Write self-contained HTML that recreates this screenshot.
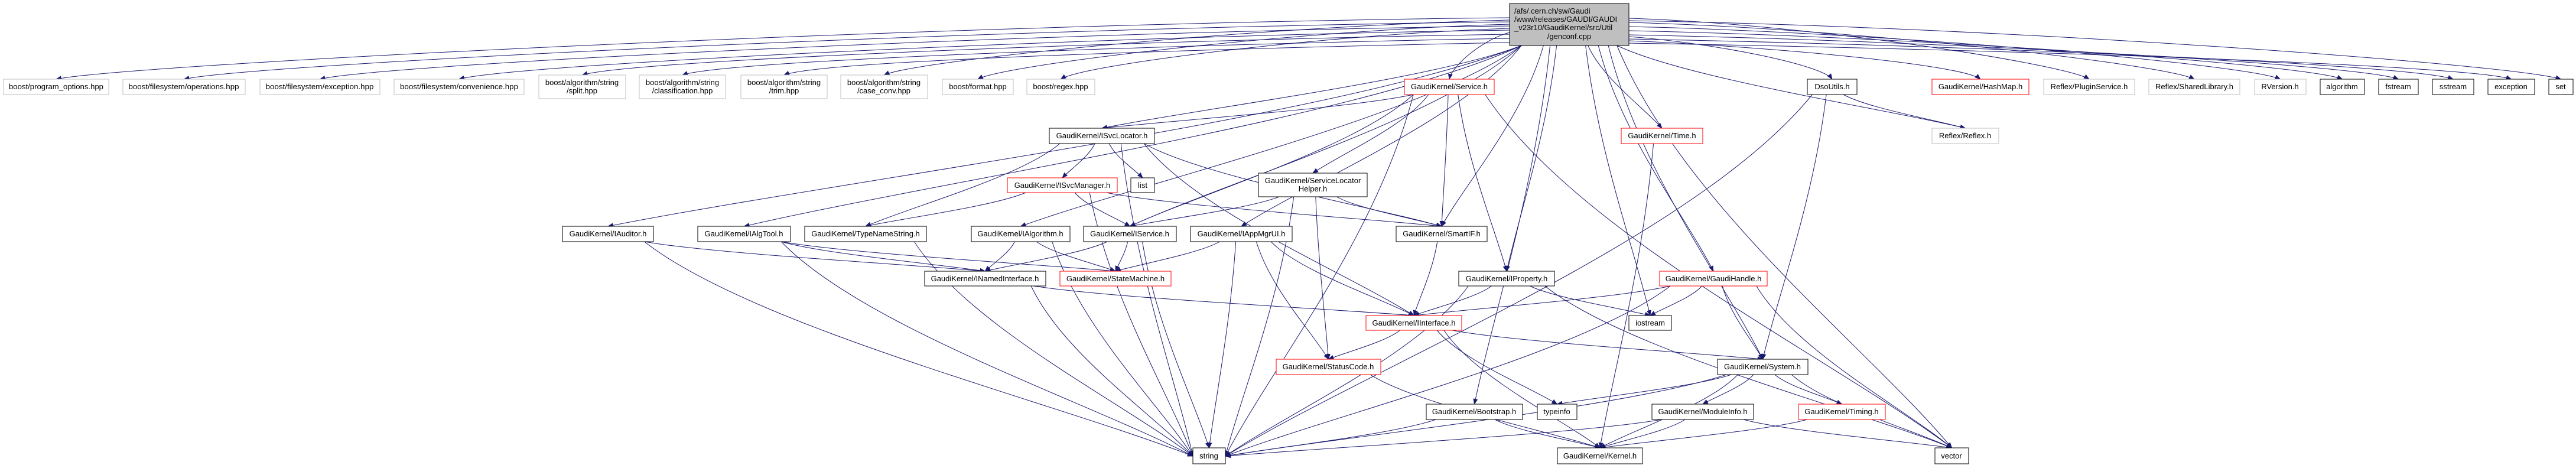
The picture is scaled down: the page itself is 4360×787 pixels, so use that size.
<!DOCTYPE html>
<html><head><meta charset="utf-8"><style>
html,body{margin:0;padding:0;background:#fff;}
svg{display:block;}
text{font-family:"Liberation Sans",sans-serif;font-size:13px;fill:#000;}
</style></head><body>
<svg id="g" width="4360" height="787" viewBox="0 0 4360 787" xmlns="http://www.w3.org/2000/svg">
<defs><marker id="a" markerWidth="10" markerHeight="8" refX="9" refY="4" orient="auto" markerUnits="userSpaceOnUse"><path d="M0,0 L10,4 L0,8 z" fill="#191970"/></marker></defs>
<g id="edges" fill="none" stroke="#191970" stroke-width="1"></g>
<g id="nodes">
<rect x="2555" y="6" width="202" height="71" fill="#bfbfbf" stroke="#000"/>
<text x="2563" y="23">/afs/.cern.ch/sw/Gaudi</text>
<text x="2563" y="37">/www/releases/GAUDI/GAUDI</text>
<text x="2563" y="51">_v23r10/GaudiKernel/src/Util</text>
<text x="2656" y="66" text-anchor="middle">/genconf.cpp</text>

<rect x="6" y="134" width="178" height="26" fill="#fff" stroke="#bfbfbf"/><text x="95" y="151" text-anchor="middle" textLength="160" lengthAdjust="spacingAndGlyphs">boost/program_options.hpp</text>
<rect x="208" y="134" width="207" height="26" fill="#fff" stroke="#bfbfbf"/><text x="311" y="151" text-anchor="middle" textLength="187" lengthAdjust="spacingAndGlyphs">boost/filesystem/operations.hpp</text>
<rect x="440" y="134" width="203" height="26" fill="#fff" stroke="#bfbfbf"/><text x="541" y="151" text-anchor="middle" textLength="183" lengthAdjust="spacingAndGlyphs">boost/filesystem/exception.hpp</text>
<rect x="667" y="134" width="220" height="26" fill="#fff" stroke="#bfbfbf"/><text x="777" y="151" text-anchor="middle" textLength="200" lengthAdjust="spacingAndGlyphs">boost/filesystem/convenience.hpp</text>
<rect x="912" y="127" width="147" height="40" fill="#fff" stroke="#bfbfbf"/><text x="985" y="144" text-anchor="middle">boost/algorithm/string</text><text x="985" y="158" text-anchor="middle">/split.hpp</text>
<rect x="1082" y="127" width="146" height="40" fill="#fff" stroke="#bfbfbf"/><text x="1155" y="144" text-anchor="middle">boost/algorithm/string</text><text x="1155" y="158" text-anchor="middle">/classification.hpp</text>
<rect x="1254" y="127" width="146" height="40" fill="#fff" stroke="#bfbfbf"/><text x="1327" y="144" text-anchor="middle">boost/algorithm/string</text><text x="1327" y="158" text-anchor="middle">/trim.hpp</text>
<rect x="1423" y="127" width="147" height="40" fill="#fff" stroke="#bfbfbf"/><text x="1496" y="144" text-anchor="middle">boost/algorithm/string</text><text x="1496" y="158" text-anchor="middle">/case_conv.hpp</text>
<rect x="1595" y="134" width="120" height="26" fill="#fff" stroke="#bfbfbf"/><text x="1655" y="151" text-anchor="middle">boost/format.hpp</text>
<rect x="1738" y="134" width="115" height="26" fill="#fff" stroke="#bfbfbf"/><text x="1795" y="151" text-anchor="middle">boost/regex.hpp</text>

<rect x="2377" y="134" width="152" height="26" fill="#fff" stroke="#ff0000"/><text x="2453" y="151" text-anchor="middle">GaudiKernel/Service.h</text>
<rect x="3059" y="134" width="84" height="26" fill="#fff" stroke="#000"/><text x="3101" y="151" text-anchor="middle">DsoUtils.h</text>
<rect x="3270" y="134" width="164" height="26" fill="#fff" stroke="#ff0000"/><text x="3352" y="151" text-anchor="middle">GaudiKernel/HashMap.h</text>
<rect x="3459" y="134" width="154" height="26" fill="#fff" stroke="#bfbfbf"/><text x="3536" y="151" text-anchor="middle">Reflex/PluginService.h</text>
<rect x="3637" y="134" width="154" height="26" fill="#fff" stroke="#bfbfbf"/><text x="3714" y="151" text-anchor="middle">Reflex/SharedLibrary.h</text>
<rect x="3816" y="134" width="87" height="26" fill="#fff" stroke="#bfbfbf"/><text x="3859" y="151" text-anchor="middle">RVersion.h</text>
<rect x="3927" y="134" width="75" height="26" fill="#fff" stroke="#000"/><text x="3964" y="151" text-anchor="middle">algorithm</text>
<rect x="4026" y="134" width="67" height="26" fill="#fff" stroke="#000"/><text x="4059" y="151" text-anchor="middle">fstream</text>
<rect x="4117" y="134" width="70" height="26" fill="#fff" stroke="#000"/><text x="4152" y="151" text-anchor="middle">sstream</text>
<rect x="4211" y="134" width="79" height="26" fill="#fff" stroke="#000"/><text x="4250" y="151" text-anchor="middle">exception</text>
<rect x="4314" y="134" width="41" height="26" fill="#fff" stroke="#000"/><text x="4334" y="151" text-anchor="middle">set</text>

<rect x="1776" y="217" width="178" height="26" fill="#fff" stroke="#000"/><text x="1865" y="234" text-anchor="middle">GaudiKernel/ISvcLocator.h</text>
<rect x="2744" y="217" width="138" height="26" fill="#fff" stroke="#ff0000"/><text x="2813" y="234" text-anchor="middle">GaudiKernel/Time.h</text>
<rect x="3270" y="217" width="113" height="26" fill="#fff" stroke="#bfbfbf"/><text x="3326" y="234" text-anchor="middle">Reflex/Reflex.h</text>

<rect x="1705" y="301" width="186" height="25" fill="#fff" stroke="#ff0000"/><text x="1798" y="318" text-anchor="middle">GaudiKernel/ISvcManager.h</text>
<rect x="1914" y="301" width="40" height="25" fill="#fff" stroke="#000"/><text x="1934" y="318" text-anchor="middle">list</text>
<rect x="2130" y="293" width="184" height="40" fill="#fff" stroke="#000"/><text x="2222" y="310" text-anchor="middle">GaudiKernel/ServiceLocator</text><text x="2222" y="324" text-anchor="middle">Helper.h</text>

<rect x="952" y="383" width="154" height="26" fill="#fff" stroke="#000"/><text x="1029" y="400" text-anchor="middle">GaudiKernel/IAuditor.h</text>
<rect x="1181" y="383" width="157" height="26" fill="#fff" stroke="#000"/><text x="1259" y="400" text-anchor="middle">GaudiKernel/IAlgTool.h</text>
<rect x="1362" y="383" width="206" height="26" fill="#fff" stroke="#000"/><text x="1465" y="400" text-anchor="middle">GaudiKernel/TypeNameString.h</text>
<rect x="1644" y="383" width="167" height="26" fill="#fff" stroke="#000"/><text x="1727" y="400" text-anchor="middle">GaudiKernel/IAlgorithm.h</text>
<rect x="1834" y="383" width="157" height="26" fill="#fff" stroke="#000"/><text x="1912" y="400" text-anchor="middle">GaudiKernel/IService.h</text>
<rect x="2015" y="383" width="172" height="26" fill="#fff" stroke="#000"/><text x="2101" y="400" text-anchor="middle">GaudiKernel/IAppMgrUI.h</text>
<rect x="2363" y="383" width="154" height="26" fill="#fff" stroke="#000"/><text x="2440" y="400" text-anchor="middle">GaudiKernel/SmartIF.h</text>

<rect x="1565" y="459" width="205" height="25" fill="#fff" stroke="#000"/><text x="1667" y="476" text-anchor="middle">GaudiKernel/INamedInterface.h</text>
<rect x="1794" y="459" width="188" height="25" fill="#fff" stroke="#ff0000"/><text x="1888" y="476" text-anchor="middle">GaudiKernel/StateMachine.h</text>
<rect x="2469" y="459" width="162" height="25" fill="#fff" stroke="#000"/><text x="2550" y="476" text-anchor="middle">GaudiKernel/IProperty.h</text>
<rect x="2809" y="459" width="182" height="25" fill="#fff" stroke="#ff0000"/><text x="2900" y="476" text-anchor="middle">GaudiKernel/GaudiHandle.h</text>

<rect x="2312" y="534" width="162" height="25" fill="#fff" stroke="#ff0000"/><text x="2393" y="551" text-anchor="middle">GaudiKernel/IInterface.h</text>
<rect x="2757" y="534" width="72" height="25" fill="#fff" stroke="#000"/><text x="2793" y="551" text-anchor="middle">iostream</text>

<rect x="2160" y="608" width="177" height="26" fill="#fff" stroke="#ff0000"/><text x="2248" y="625" text-anchor="middle">GaudiKernel/StatusCode.h</text>
<rect x="2907" y="608" width="153" height="26" fill="#fff" stroke="#000"/><text x="2983" y="625" text-anchor="middle">GaudiKernel/System.h</text>

<rect x="2414" y="684" width="163" height="26" fill="#fff" stroke="#000"/><text x="2495" y="701" text-anchor="middle">GaudiKernel/Bootstrap.h</text>
<rect x="2602" y="684" width="67" height="26" fill="#fff" stroke="#000"/><text x="2635" y="701" text-anchor="middle">typeinfo</text>
<rect x="2796" y="684" width="172" height="26" fill="#fff" stroke="#000"/><text x="2882" y="701" text-anchor="middle">GaudiKernel/ModuleInfo.h</text>
<rect x="3044" y="684" width="147" height="26" fill="#fff" stroke="#ff0000"/><text x="3117" y="701" text-anchor="middle">GaudiKernel/Timing.h</text>

<rect x="2019" y="758" width="55" height="27" fill="#fff" stroke="#000"/><text x="2046" y="776" text-anchor="middle">string</text>
<rect x="2636" y="758" width="144" height="27" fill="#fff" stroke="#000"/><text x="2708" y="776" text-anchor="middle">GaudiKernel/Kernel.h</text>
<rect x="3275" y="758" width="57" height="27" fill="#fff" stroke="#000"/><text x="3303" y="776" text-anchor="middle">vector</text>
</g>
</svg>
<script>
var N={root:[2555,2757,6,77],po:[6,184,134,160],op:[208,415,134,160],ex:[440,643,134,160],cv:[667,887,134,160],sp:[912,1059,127,167],cl:[1082,1228,127,167],tr:[1254,1400,127,167],cc:[1423,1570,127,167],fm:[1595,1715,134,160],rg:[1738,1853,134,160],
svc:[2377,2529,134,160],dso:[3059,3143,134,160],hm:[3270,3434,134,160],ps:[3459,3613,134,160],sl:[3637,3791,134,160],rv:[3816,3903,134,160],al:[3927,4002,134,160],fs:[4026,4093,134,160],ss:[4117,4187,134,160],exc:[4211,4290,134,160],set:[4314,4355,134,160],
isl:[1776,1954,217,243],time:[2744,2882,217,243],rfx:[3270,3383,217,243],ism:[1705,1891,301,326],list:[1914,1954,301,326],slh:[2130,2314,293,333],
aud:[952,1106,383,409],tool:[1181,1338,383,409],tns:[1362,1568,383,409],ialg:[1644,1811,383,409],isvc:[1834,1991,383,409],app:[2015,2187,383,409],sif:[2363,2517,383,409],
nif:[1565,1770,459,484],sm:[1794,1982,459,484],prop:[2469,2631,459,484],gh:[2809,2991,459,484],ii:[2312,2474,534,559],ios:[2757,2829,534,559],
sc:[2160,2337,608,634],sys:[2907,3060,608,634],boot:[2414,2577,684,710],ti:[2602,2669,684,710],mi:[2796,2968,684,710],tim:[3044,3191,684,710],
str:[2019,2074,758,785],ker:[2636,2780,758,785],vec:[3275,3332,758,785]};
var E=[["root","po"],["root","op"],["root","ex"],["root","cv"],["root","sp"],["root","cl"],["root","tr"],["root","cc"],["root","fm"],["root","rg"],["root","svc"],["root","dso"],["root","hm"],["root","ps"],["root","sl"],["root","rv"],["root","al"],["root","fs"],["root","ss"],["root","exc"],["root","set"],
["root","isl"],["root","aud"],["root","tool"],["root","ialg"],["root","isvc"],["root","app"],["root","sif"],["root","prop"],["root","time"],["root","ios"],["root","gh"],["root","sys"],["root","boot"],["root","rfx"],["root","vec"],
["svc","isl"],["svc","sif"],["svc","prop"],["svc","slh"],["svc","isvc"],["svc","vec"],["svc","str"],
["isl","ism"],["isl","list"],["isl","str"],["isl","tns"],["isl","sif"],["isl","ii"],
["ism","tns"],["ism","isvc"],["ism","sif"],["ism","str"],
["slh","isvc"],["slh","sif"],["slh","sc"],["slh","str"],
["aud","nif"],["aud","str"],["tool","nif"],["tool","sm"],["tool","str"],["tns","str"],
["ialg","nif"],["ialg","sm"],["ialg","str"],["isvc","nif"],["isvc","sm"],["isvc","str"],
["app","sm"],["app","str"],["app","ii"],["app","sc"],["nif","str"],["nif","ii"],["sif","ii"],
["prop","ii"],["prop","ios"],["prop","str"],["prop","vec"],["gh","ii"],["gh","ios"],["gh","sys"],["gh","str"],["gh","vec"],
["ii","sc"],["ii","ti"],["ii","sys"],["ii","ker"],["sc","ker"],["sys","ti"],["sys","mi"],["sys","tim"],["sys","ker"],["sys","str"],["sys","vec"],
["boot","ker"],["boot","str"],["mi","ker"],["mi","str"],["mi","vec"],["tim","ker"],["time","ker"],["dso","rfx"],["dso","sys"],["dso","str"]];
var g=document.getElementById("edges"),h="";
E.forEach(function(e,i){var s=N[e[0]],t=N[e[1]];
var tx=(t[0]+t[1])/2,ty=t[2];var sx,sy;
if(e[0]=="root"&&t[2]<170&&(tx<s[0]||tx>s[1])){sx=tx<s[0]?s[0]:s[1];sy=30+(i*7)%45;
h+='<path marker-end="url(#a)" d="M'+sx+','+sy+' C'+(sx+(tx-sx)*0.4)+','+(sy+10)+' '+(tx+(sx-tx)*0.05)+','+(ty-25)+' '+tx+','+ty+'"/>';return;}
var sc=(s[0]+s[1])/2;sx=sc+Math.max(-1,Math.min(1,(tx-sc)/400))*(s[1]-s[0])*0.4;sy=s[3];
if(e[1]=="str"&&sx>t[1]+100){tx=t[1];ty=t[2]+14;}
else if(e[1]=="str"&&sx<t[0]-100){tx=t[0];ty=t[2]+14;}
var dx=tx-sx,dy=ty-sy;
h+='<path marker-end="url(#a)" d="M'+sx+','+sy+' C'+(sx+dx*0.2)+','+(sy+dy*0.4)+' '+(sx+dx*0.75)+','+(sy+dy*0.75)+' '+tx+','+ty+'"/>';});
g.innerHTML=h;
</script>
</body></html>
